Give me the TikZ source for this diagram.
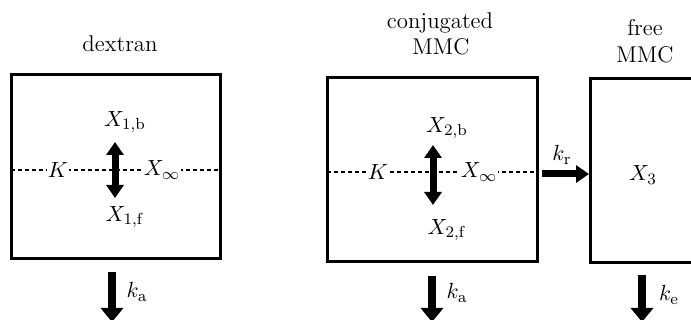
\documentclass[tikz,border=0pt]{standalone}
\usetikzlibrary{arrows.meta,fit}
\begin{document}
\begin{tikzpicture}[x=0.5pt,y=-0.5pt,
  every node/.style={font=\fontsize{11.4}{13.5}\selectfont, inner sep=1pt},
  box/.style={draw, line width=1.5pt, inner sep=0pt},
  dashline/.style={line width=0.75pt, dash pattern=on 2pt off 1.5pt},
  lbl/.style={fill=white, inner sep=0.5pt},
  dbl/.style={line width=3.5pt, {Triangle[length=6.5pt,width=8.5pt]}-{Triangle[length=6.5pt,width=8.5pt]}},
  down/.style={line width=4pt, -{Triangle[length=7pt,width=11pt]}},
  side/.style={line width=3.5pt, -{Triangle[length=6.5pt,width=8.5pt]}}
]
\useasboundingbox (0,0) rectangle (691,320);

% ---------- compartment 1: dextran ----------
\node[anchor=base] (t1) at (120,52) {dextran};
\coordinate (b1a) at (11,75);
\coordinate (b1b) at (220,259);
\node[box, fit=(b1a)(b1b)] (B1) {};
\coordinate (d1l) at (11,170);
\coordinate (d1r) at (220,170);
\draw[dashline] (d1l) -- (d1r);
\node[lbl] (K1) at (58,170) {$K$};
\node[lbl] (Xi1) at (162,170) {$X_\infty$};
\node (X1b) at (125,122) {$X_{1,\mathrm{b}}$};
\node (X1f) at (125,217) {$X_{1,\mathrm{f}}$};
\coordinate (a1t) at (115,142);
\coordinate (a1b) at (115,198);
\draw[dbl] (a1t) -- (a1b);
\coordinate (d1s) at (112,272);
\coordinate (d1e) at (112,322);
\draw[down] (d1s) -- (d1e);
\node (ka1) at (137,292) {$k_\mathrm{a}$};

% ---------- compartment 2: conjugated MMC ----------
\node[anchor=base] (t2a) at (440,29) {conjugated};
\node[anchor=base] (t2b) at (441,55) {MMC};
\coordinate (b2a) at (327,78);
\coordinate (b2b) at (537,262);
\node[box, fit=(b2a)(b2b)] (B2) {};
\coordinate (d2l) at (327,172);
\coordinate (d2r) at (537,172);
\draw[dashline] (d2l) -- (d2r);
\node[lbl] (K2) at (378,172) {$K$};
\node[lbl] (Xi2) at (479,172) {$X_\infty$};
\node (X2b) at (447,128) {$X_{2,\mathrm{b}}$};
\node (X2f) at (447,230) {$X_{2,\mathrm{f}}$};
\coordinate (a2t) at (433,145);
\coordinate (a2b) at (433,205);
\draw[dbl] (a2t) -- (a2b);
\coordinate (d2s) at (432,276);
\coordinate (d2e) at (432,322);
\draw[down] (d2s) -- (d2e);
\node (ka2) at (457,293) {$k_\mathrm{a}$};

% ---------- release arrow ----------
\coordinate (rs) at (542,174);
\coordinate (re) at (589,174);
\draw[side] (rs) -- (re);
\node (kr) at (562,155) {$k_\mathrm{r}$};

% ---------- compartment 3: free MMC ----------
\node[anchor=base] (t3a) at (645,36) {free};
\node[anchor=base] (t3b) at (645,63) {MMC};
\coordinate (b3a) at (590,79);
\coordinate (b3b) at (692,263);
\node[box, fit=(b3a)(b3b)] (B3) {};
\node (X3) at (643,175) {$X_3$};
\coordinate (d3s) at (642,275);
\coordinate (d3e) at (642,322);
\draw[down] (d3s) -- (d3e);
\node (ke) at (669,295) {$k_\mathrm{e}$};
\end{tikzpicture}
\end{document}
